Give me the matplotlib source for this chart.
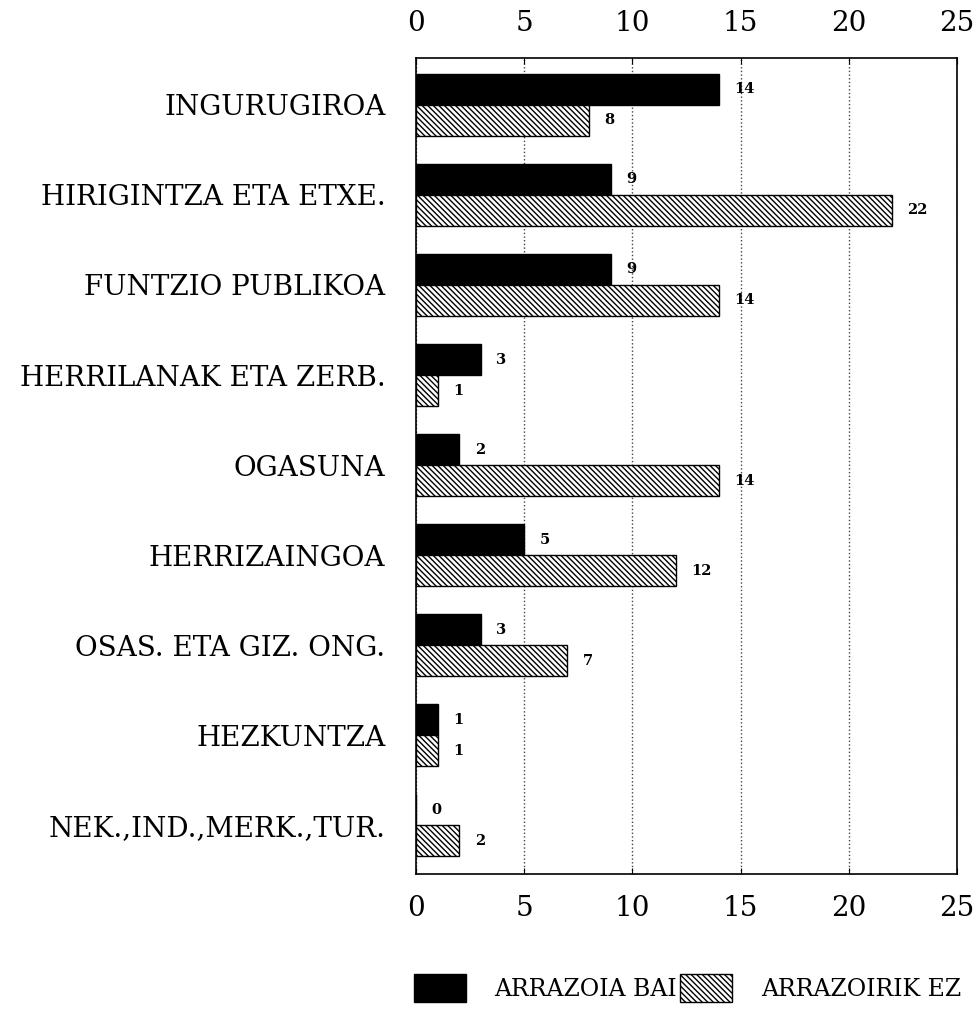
import numpy as np
import matplotlib
matplotlib.use("Agg")
import matplotlib.pyplot as plt
from matplotlib.patches import Patch

# data
categories = [
    "INGURUGIROA",
    "HIRIGINTZA ETA ETXE.",
    "FUNTZIO PUBLIKOA",
    "HERRILANAK ETA ZERB.",
    "OGASUNA",
    "HERRIZAINGOA",
    "OSAS. ETA GIZ. ONG.",
    "HEZKUNTZA",
    "NEK.,IND.,MERK.,TUR.",
]
arrazoia_bai = [14, 9, 9, 3, 2, 5, 3, 1, 0]
arrazoirik_ez = [8, 22, 14, 1, 14, 12, 7, 1, 2]
x_ticks = [0, 5, 10, 15, 20, 25]
legend_labels = ["ARRAZOIA BAI", "ARRAZOIRIK EZ"]

plt.rcParams['font.family'] = ['DejaVu Serif']
plt.rcParams['hatch.linewidth'] = 1.0
HATCH = '\\' * 6

fig = plt.figure(figsize=(9.8, 10.16), dpi=100)
ax = fig.add_axes([0.4245, 0.1398, 0.552, 0.8031])

y = np.arange(len(categories))
h = 0.344

bars_bai = ax.barh(y - h / 2, arrazoia_bai, height=h, color='black',
                   edgecolor='black', linewidth=1)
bars_ez = ax.barh(y + h / 2, arrazoirik_ez, height=h, color='white',
                  edgecolor='black', linewidth=1, hatch=HATCH)

# value labels next to each bar
for bars, vals in [(bars_bai, arrazoia_bai), (bars_ez, arrazoirik_ez)]:
    for bar, v in zip(bars, vals):
        ax.annotate(str(v), (v, bar.get_y() + bar.get_height() / 2),
                    xytext=(11, 0), textcoords='offset points',
                    ha='left', va='center', fontsize=10.5, fontweight='bold')

ax.set_xlim(0, 25)
ax.set_ylim(8.54, -0.52)
ax.set_xticks(x_ticks)
ax.set_xticklabels([str(t) for t in x_ticks])
ax.set_yticks(y)
ax.set_yticklabels(categories, fontsize=20)

ax.tick_params(axis='x', top=True, labeltop=True, bottom=True, labelbottom=True,
               labelsize=20, direction='in', length=4, pad=15)
ax.tick_params(axis='y', length=0, pad=22)

ax.grid(axis='x', color='#444444', linestyle=':', linewidth=1)
ax.set_axisbelow(True)
for s in ax.spines.values():
    s.set_linewidth(1.2)

handles = [Patch(facecolor='black', edgecolor='black'),
           Patch(facecolor='white', edgecolor='black', hatch=HATCH)]
fig.legend(handles, legend_labels, loc='lower left',
           bbox_to_anchor=(414 / 980, 14 / 1016), ncol=2, frameon=False,
           fontsize=17, handlelength=2.2, handleheight=1.45,
           handletextpad=1.2, columnspacing=0.15, borderpad=0, borderaxespad=0)

fig.savefig('out.png', dpi=100)
